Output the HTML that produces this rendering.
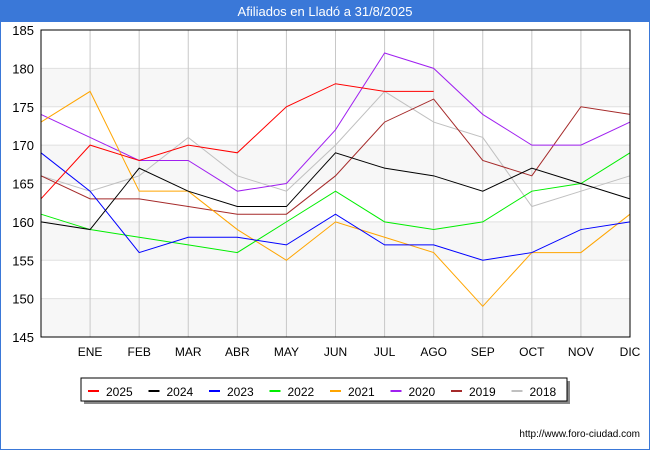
<!DOCTYPE html>
<html><head><meta charset="utf-8"><style>
body{margin:0;width:650px;height:450px;overflow:hidden;font-family:"Liberation Sans","DejaVu Sans",sans-serif;}
</style></head><body>
<svg width="650" height="450" xmlns="http://www.w3.org/2000/svg">
<rect x="0" y="0" width="650" height="450" fill="#fff" stroke="#3a78d8" stroke-width="2"/>
<rect x="0" y="0" width="650" height="22" fill="#3a78d8"/>
<text x="325" y="16" text-anchor="middle" fill="#fff" font-size="13">Afiliados en Lladó a 31/8/2025</text>
<g id="bands"></g><g id="grid"></g><g id="series"></g>
<rect x="41" y="30" width="589" height="307" fill="none" stroke="#000"/>
<g id="axes"></g>
<g id="legend">
<rect x="84" y="381" width="486" height="23" fill="#888"/>
<rect x="81" y="378" width="486" height="23" fill="#fff" stroke="#000"/>
</g>
<text x="640" y="437" text-anchor="end" font-size="10" fill="#000">http://www.foro-ciudad.com</text>
</svg>
<script>
const months=["","ENE","FEB","MAR","ABR","MAY","JUN","JUL","AGO","SEP","OCT","NOV","DIC"];
const yTicks=[145,150,155,160,165,170,175,180,185];
const years=["2025","2024","2023","2022","2021","2020","2019","2018"];
const colors=["#ff0000","#000000","#0000ff","#00ee00","#ffa500","#a020f0","#a52a2a","#c0c0c0"];
const s2025=[163,170,168,170,169,175,178,177,177];
const s2024=[160,159,167,164,162,162,169,167,166,164,167,165,163];
const s2023=[169,164,156,158,158,157,161,157,157,155,156,159,160];
const s2022=[161,159,158,157,156,160,164,160,159,160,164,165,169];
const s2021=[173,177,164,164,159,155,160,158,156,149,156,156,161];
const s2020=[174,171,168,168,164,165,172,182,180,174,170,170,173];
const s2019=[166,163,163,162,161,161,166,173,176,168,166,175,174];
const s2018=[166,164,166,171,166,164,170,177,173,171,162,164,166];
const allSeries=[s2025,s2024,s2023,s2022,s2021,s2020,s2019,s2018];
const NS="http://www.w3.org/2000/svg";
const X0=41,X1=630,Y0=337,Y1=30,YMIN=145,YMAX=185;
const x=i=>X0+i*(X1-X0)/12;
const y=v=>Y0-(v-YMIN)*(Y0-Y1)/(YMAX-YMIN);
function mk(tag,at,parent){const e=document.createElementNS(NS,tag);for(const k in at)e.setAttribute(k,at[k]);document.getElementById(parent).appendChild(e);return e;}
[145,155,165,175].forEach(v=>{const r=mk('rect',{x:X0,y:y(v+5),width:X1-X0,height:y(v)-y(v+5),fill:'#f7f7f7'},'bands');

});
yTicks.forEach(v=>{const l=mk('line',{x1:X0,x2:X1,y1:y(v),y2:y(v),stroke:'#e0e0e0'},'grid');


const t=mk('text',{x:34,y:y(v)+5,'text-anchor':'end','font-size':'13'},'axes');t.textContent=v;

});
months.forEach((m,i)=>{if(!m)return;const l=mk('line',{x1:x(i),x2:x(i),y1:Y1,y2:Y0,stroke:'#c8c8c8'},'grid');


const t=mk('text',{x:x(i),y:356,'text-anchor':'middle','font-size':'12'},'axes');t.textContent=m;

});
for(let k=allSeries.length-1;k>=0;k--){const p=allSeries[k].map((v,i)=>x(i)+','+y(v)).join(' ');
const pl=mk('polyline',{points:p,fill:'none',stroke:colors[k],'stroke-width':1},'series');

}
years.forEach((yr,k)=>{const lx=88+k*60.5;
const l=mk('line',{x1:lx,x2:lx+11,y1:391,y2:391,stroke:colors[k],'stroke-width':2},'legend');


const t=mk('text',{x:lx+18,y:396,'font-size':'12'},'legend');t.textContent=yr;

});
</script>
</body></html>
